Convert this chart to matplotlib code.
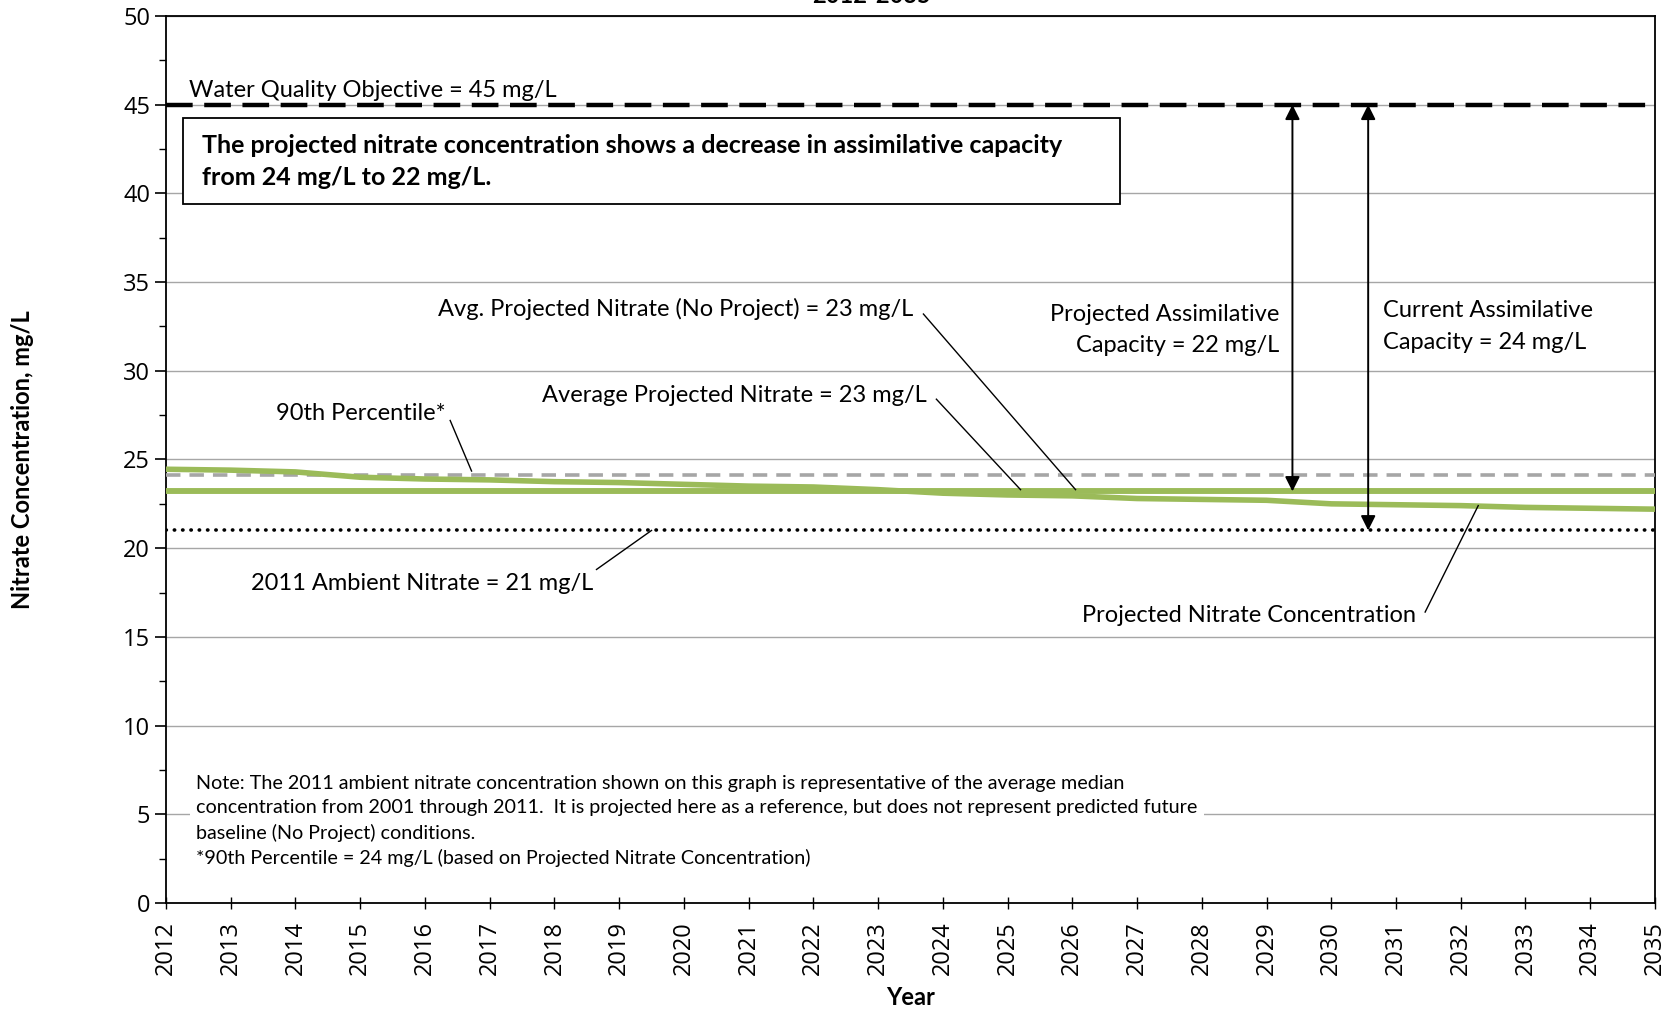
import matplotlib
matplotlib.use("Agg")
import matplotlib.pyplot as plt
from matplotlib.ticker import MultipleLocator
from matplotlib.patches import Rectangle

# --- DATA ---
years = list(range(2012, 2036))
projected = [24.45, 24.4, 24.3, 24.0, 23.9, 23.85, 23.75, 23.7, 23.6, 23.5,
             23.45, 23.3, 23.1, 23.0, 22.95, 22.8, 22.75, 22.7, 22.5, 22.45,
             22.4, 22.3, 22.25, 22.2]
avg_projected = 23.2
avg_no_project = 23.2
pct90 = 24.15
ambient_2011 = 21.0
wqo = 45.0

GREEN = "#9BBB59"
FONT = "Lato"

plt.rcParams['font.family'] = [FONT, 'DejaVu Sans']

fig = plt.figure(figsize=(16.8, 10.14), dpi=100)
ax = fig.add_axes([0.0988, 0.1095, 0.8863, 0.8747])

ax.set_xlim(2012, 2035)
ax.set_ylim(0, 50)
ax.yaxis.set_major_locator(MultipleLocator(5))
ax.yaxis.set_minor_locator(MultipleLocator(2.5))
ax.set_xticks(years)
ax.set_xticklabels([str(y) for y in years], rotation=90, fontsize=17, family='Open Sans')
ax.tick_params(axis='y', which='major', labelsize=17, length=8, width=1.2, direction='out')
ax.tick_params(axis='y', which='minor', length=5, width=1.0, direction='out')
ax.tick_params(axis='x', which='major', length=8, width=1.0, direction='inout', pad=9)
for lab in ax.get_yticklabels():
    lab.set_family('Open Sans')
ax.grid(axis='y', which='major', color='#A6A6A6', linewidth=1.0, zorder=0)
for s in ax.spines.values():
    s.set_linewidth(1.3)
    s.set_color('black')

# lines
ax.plot([2012, 2035], [wqo, wqo], color='black', linewidth=3.2, dashes=(6, 2.6), zorder=3)
ax.plot([2012, 2035], [pct90, pct90], color='#A6A6A6', linewidth=2.6, dashes=(4, 2.5), zorder=3)
ax.plot([2012, 2035], [avg_no_project, avg_no_project], color=GREEN, linewidth=4.0, zorder=4)
ax.plot([2012, 2035], [avg_projected, avg_projected], color=GREEN, linewidth=4.0, zorder=4)
ax.plot(years, projected, color=GREEN, linewidth=4.0, zorder=4, solid_capstyle='butt')
ax.plot([2012, 2035], [ambient_2011, ambient_2011], color='black', linewidth=2.6,
        linestyle=(0, (0.1, 2.2)), dash_capstyle='round', zorder=3)

ax.set_ylabel("Nitrate Concentration, mg/L", fontsize=17, fontweight='bold', labelpad=64)
ax.set_xlabel("Year", fontsize=17, fontweight='bold', labelpad=8)

fs = 17

ax.text(2012.35, 45.2, "Water Quality Objective = 45 mg/L", fontsize=fs, va='bottom', ha='left')

# summary box
ax.add_patch(Rectangle((2012.26, 39.43), 14.48, 4.83, facecolor='white', edgecolor='black',
                       linewidth=1.3, zorder=5))
ax.text(2012.55, 41.8, "The projected nitrate concentration shows a decrease in assimilative capacity\nfrom 24 mg/L to 22 mg/L.",
        fontsize=18, fontweight='bold', va='center', ha='left', linespacing=1.45, zorder=6)

def leader(text, txy, p0, p1, ha='right'):
    ax.text(txy[0], txy[1], text, fontsize=fs, ha=ha, va='center', zorder=6)
    ax.plot([p0[0], p1[0]], [p0[1], p1[1]], color='black', linewidth=1.0, zorder=5)

leader("Avg. Projected Nitrate (No Project) = 23 mg/L", (2023.55, 33.5), (2023.7, 33.2), (2026.05, 23.3))
leader("Average Projected Nitrate = 23 mg/L", (2023.75, 28.6), (2023.9, 28.4), (2025.2, 23.3))
leader("90th Percentile*", (2016.32, 27.6), (2016.39, 27.2), (2016.72, 24.35))
leader("2011 Ambient Nitrate = 21 mg/L", (2018.6, 18.0), (2018.65, 18.8), (2019.5, 21.0))
leader("Projected Nitrate Concentration", (2031.31, 16.2), (2031.45, 16.4), (2032.27, 22.4))

ax.text(2029.2, 32.3, "Projected Assimilative\nCapacity = 22 mg/L", fontsize=fs, ha='right', va='center',
        linespacing=1.6)
ax.text(2030.8, 32.5, "Current Assimilative\nCapacity = 24 mg/L", fontsize=fs, ha='left', va='center',
        linespacing=1.6)

arrow = dict(arrowstyle='<|-|>', color='black', linewidth=1.4, mutation_scale=22, shrinkA=0, shrinkB=0)
ax.annotate("", xy=(2029.4, avg_projected), xytext=(2029.4, wqo), arrowprops=arrow, zorder=6)
ax.annotate("", xy=(2030.57, ambient_2011), xytext=(2030.57, wqo), arrowprops=arrow, zorder=6)

note = ("Note: The 2011 ambient nitrate concentration shown on this graph is representative of the average median\n"
        "concentration from 2001 through 2011.  It is projected here as a reference, but does not represent predicted future\n"
        "baseline (No Project) conditions.\n"
        "*90th Percentile = 24 mg/L (based on Projected Nitrate Concentration)")
ax.text(2012.47, 4.6, note, fontsize=14.2, ha='left', va='center', linespacing=1.5, zorder=6,
        bbox=dict(boxstyle='square,pad=0.3', facecolor='white', edgecolor='none'))

fig.text(0.519, 1 - 3 / 1014, "2012-2035", fontsize=17, fontweight='bold', ha='center', va='baseline')

fig.savefig("out.png", dpi=100)
